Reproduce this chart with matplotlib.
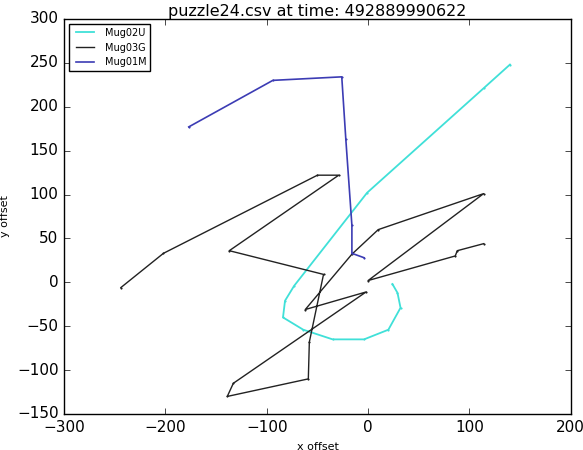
import matplotlib
matplotlib.use("Agg")
import matplotlib.pyplot as plt

# positions of each mug (x offset, y offset)
mug02u_x = [140, 114, -1, -73, -82, -84, -64, -35, -4, 20, 32, 29, 24]
mug02u_y = [248, 221, 102, -4, -21, -40, -54, -65, -65, -54, -29, -12, -2]

mug03g_x = [-244, -202, -50, -29, -137, -44, -58, -59, -139, -133, -2, -62, -16, 10, 114, 0, 86, 88, 114]
mug03g_y = [-6, 33, 122, 122, 36, 9, -68, -110, -130, -115, -11, -31, 32, 60, 101, 2, 30, 36, 44]

mug01m_x = [-177, -94, -26, -22, -16, -16, -4]
mug01m_y = [177, 230, 234, 163, 65, 33, 28]

plt.style.use("classic")
fig = plt.figure(figsize=(5.83, 4.5), dpi=100, facecolor="white")
ax = fig.add_axes([0.110, 0.080, 0.869, 0.878])

series = [
    (mug02u_x, mug02u_y, "#40e0d8", 1.3, "Mug02U"),
    (mug03g_x, mug03g_y, "#222222", 1.0, "Mug03G"),
    (mug01m_x, mug01m_y, "#3c3cb4", 1.2, "Mug01M"),
]
for xs, ys, col, lw, name in series:
    ax.plot(xs, ys, color=col, lw=lw, label=name)
    # small dots at the sampled positions
    ax.plot(xs, ys, ls="none", marker="o", ms=1.0, color=col, mec=col)

ax.set_xlim(-300, 200)
ax.set_ylim(-150, 300)
ax.set_title("puzzle24.csv at time: 492889990622", fontsize=11.5, pad=2)
ax.set_xlabel("x offset", fontsize=8)
ax.set_ylabel("y offset", fontsize=8)
ax.tick_params(labelsize=11)
ax.legend(loc="upper left", fontsize=7, handlelength=2.5)

plt.savefig("out.png", dpi=100, facecolor="white")
